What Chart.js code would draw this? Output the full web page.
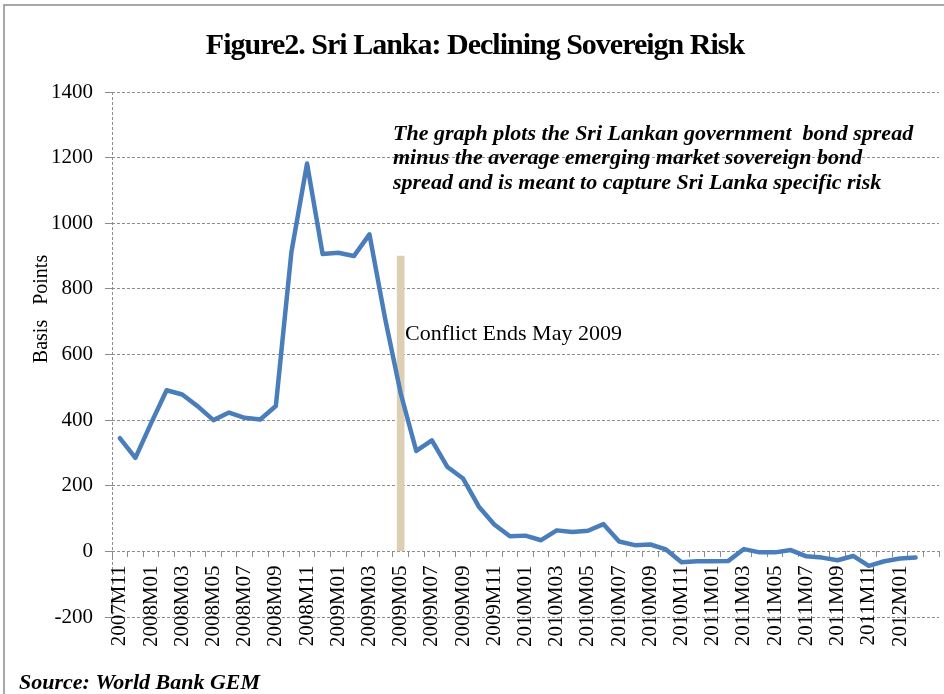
<!DOCTYPE html>
<html>
<head>
<meta charset="utf-8">
<script src="https://cdn.jsdelivr.net/npm/chart.js@4.4.1/dist/chart.umd.min.js"></script>
<style>
body { margin: 0; background: #fff; }
#wrap { width: 944px; height: 694px; position: relative; }
</style>
</head>
<body>
<div id="wrap"><canvas id="myChart"></canvas></div>
<script>
// monthly categories, Excel style labels
var months = [
  '2007M11', '2007M12',
  '2008M01', '2008M02', '2008M03', '2008M04', '2008M05', '2008M06', '2008M07', '2008M08', '2008M09', '2008M10', '2008M11', '2008M12',
  '2009M01', '2009M02', '2009M03', '2009M04', '2009M05', '2009M06', '2009M07', '2009M08', '2009M09', '2009M10', '2009M11', '2009M12',
  '2010M01', '2010M02', '2010M03', '2010M04', '2010M05', '2010M06', '2010M07', '2010M08', '2010M09', '2010M10', '2010M11', '2010M12',
  '2011M01', '2011M02', '2011M03', '2011M04', '2011M05', '2011M06', '2011M07', '2011M08', '2011M09', '2011M10', '2011M11', '2011M12',
  '2012M01', '2012M02', '2012M03'
];

// Sri Lanka spread minus EM average spread (basis points)
var spread = [
  345, 285,
  390, 491, 478, 442, 400, 423, 407, 402, 443, 913, 1182, 906,
  910, 900, 966, 710, 482, 306, 338, 257, 222, 137, 82, 46,
  48, 34, 64, 59, 63, 83, 30, 19, 21, 6, -33, -30,
  -30, -29, 7, -3, -3, 4, -15, -19, -27, -14, -44, -30,
  -22, -19
];

var conflictMonth = '2009M05';
var conflictHeight = 900;

var yMin = -200, yMax = 1400, yStep = 200;

var titleText = 'Figure2. Sri Lanka: Declining Sovereign Risk';
var noteLines = [
  'The graph plots the Sri Lankan government  bond spread',
  'minus the average emerging market sovereign bond',
  'spread and is meant to capture Sri Lanka specific risk'
];
var conflictText = 'Conflict Ends May 2009';
var yTitle = 'Basis   Points';
var sourceText = 'Source: World Bank GEM';

var serif = '"Liberation Serif", "Times New Roman", serif';
var gridGrey = '#8c8c8c';

var textPlugin = {
  id: 'texts',
  beforeDraw: function(chart) {
    var ctx = chart.ctx;
    ctx.save();
    ctx.strokeStyle = gridGrey;
    ctx.lineWidth = 1.5;
    ctx.beginPath();
    ctx.moveTo(4, 694);
    ctx.lineTo(4, 5);
    ctx.lineTo(944, 5);
    ctx.stroke();
    ctx.restore();
  },
  afterDraw: function(chart) {
    var ctx = chart.ctx;
    ctx.save();
    ctx.fillStyle = '#000';
    ctx.textBaseline = 'middle';

    ctx.textAlign = 'center';
    ctx.font = 'bold 30px ' + serif;
    ctx.letterSpacing = '-1px';
    ctx.fillText(titleText, 475, 46);
    ctx.letterSpacing = '0px';

    ctx.textAlign = 'left';
    ctx.font = 'italic bold 22px ' + serif;
    noteLines.forEach(function(line, i) {
      ctx.fillText(line, 393, 134 + i * 24.5);
    });

    ctx.font = '22px ' + serif;
    ctx.fillText(conflictText, 405, 334);

    ctx.font = 'italic bold 22px ' + serif;
    ctx.fillText(sourceText, 19, 683);

    ctx.translate(42, 309);
    ctx.rotate(-Math.PI / 2);
    ctx.textAlign = 'center';
    ctx.font = '20px ' + serif;
    ctx.fillText(yTitle, 0, 0);
    ctx.restore();
  }
};

var ctx = document.getElementById('myChart').getContext('2d');

new Chart(ctx, {
  data: {
    labels: months,
    datasets: [{
      type: 'line',
      label: 'Spread',
      data: spread,
      borderColor: '#4a7ebb',
      borderWidth: 4.5,
      pointRadius: 0,
      tension: 0,
      borderJoinStyle: 'round',
      borderCapStyle: 'round',
      order: 1
    }, {
      type: 'bar',
      label: 'Conflict ends',
      data: months.map(function(m) { return m === conflictMonth ? conflictHeight : null; }),
      backgroundColor: '#dccfb3',
      barThickness: 7,
      order: 2
    }]
  },
  options: {
    responsive: true,
    maintainAspectRatio: false,
    animation: false,
    layout: { padding: { top: 92, right: 5, bottom: 77, left: 0 } },
    plugins: {
      legend: { display: false },
      tooltip: { enabled: false }
    },
    scales: {
      x: {
        type: 'category',
        position: { y: 0 },
        offset: true,
        afterFit: function(scale) {
          scale.paddingLeft = 0;
          scale.paddingRight = 0;
        },
        grid: {
          offset: true,
          drawOnChartArea: true,
          drawTicks: true,
          tickLength: 6,
          // only the first line (the value axis) shows in the plot
          color: function(c) { return c.index === 0 ? gridGrey : 'rgba(0,0,0,0)'; },
          tickColor: gridGrey,
          tickBorderDash: []
        },
        border: { display: false, dash: [3, 2] },
        ticks: {
          autoSkip: false,
          minRotation: 90,
          maxRotation: 90,
          padding: 8,
          color: '#000',
          font: { family: serif, size: 21 },
          callback: function(v, i) {
            return (i % 2 === 0 && i < spread.length) ? this.getLabelForValue(v) : '';
          }
        }
      },
      y: {
        min: yMin,
        max: yMax,
        afterFit: function(scale) { scale.width = 112; },
        grid: {
          color: gridGrey,
          tickLength: 7,
          tickBorderDash: []
        },
        border: { display: false, dash: [3, 2] },
        ticks: {
          stepSize: yStep,
          padding: 12,
          color: '#000',
          font: { family: serif, size: 21 },
          callback: function(v) { return String(v); }
        }
      }
    }
  },
  plugins: [textPlugin]
});
</script>
</body>
</html>
